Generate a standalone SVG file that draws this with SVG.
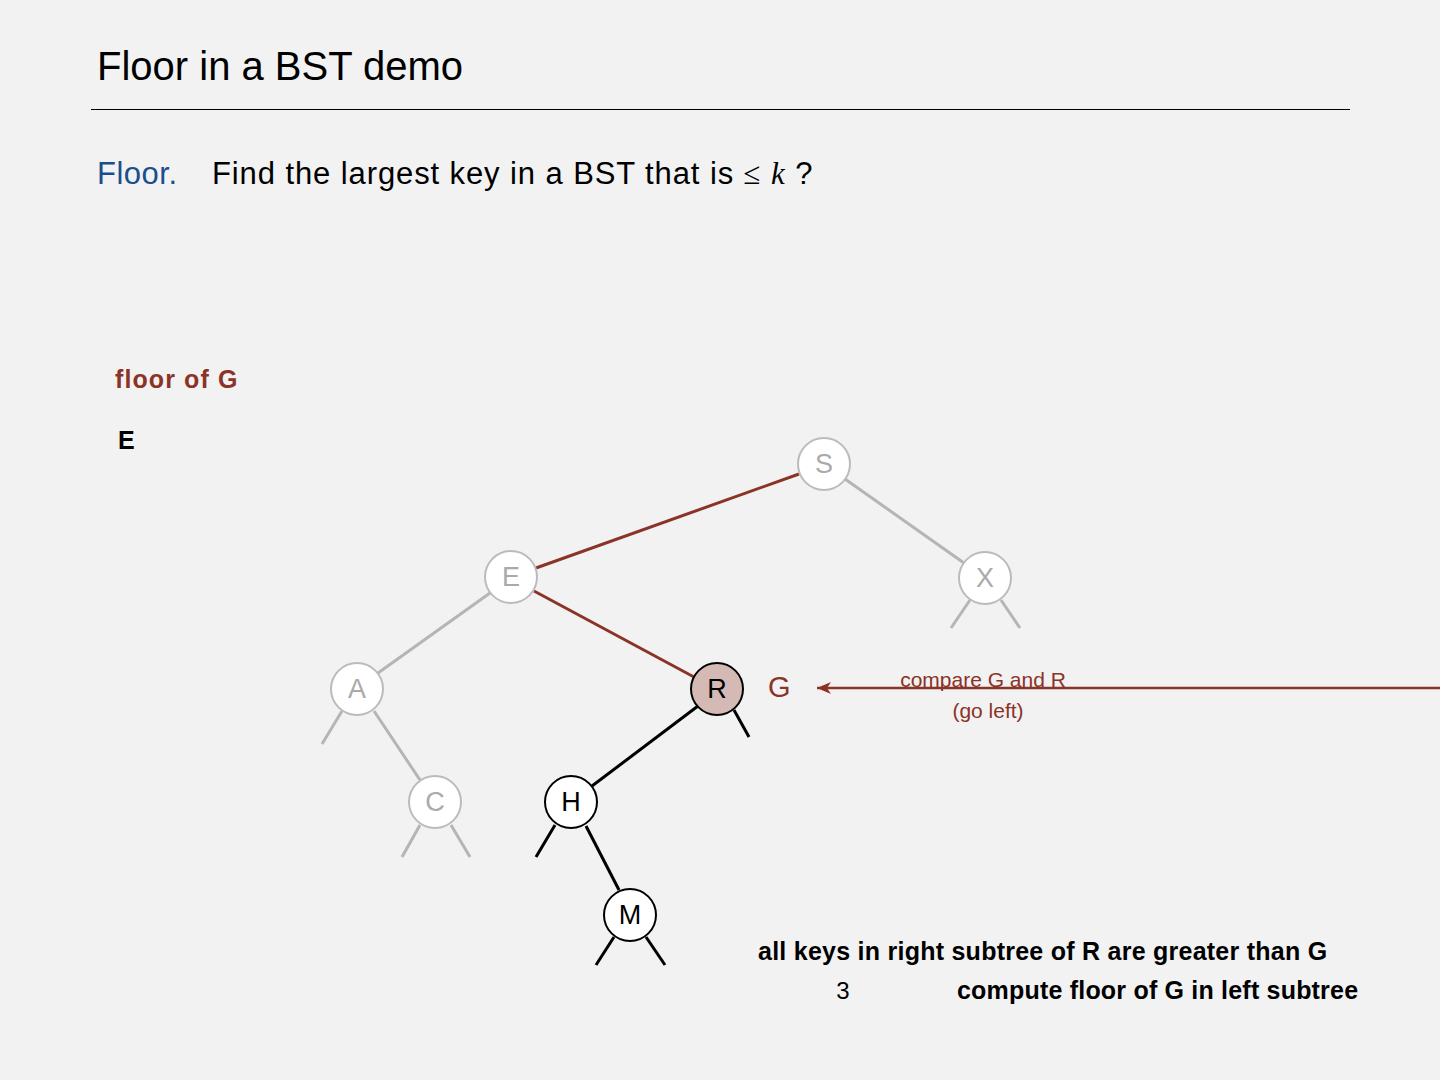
<svg xmlns="http://www.w3.org/2000/svg" width="1440" height="1080" viewBox="0 0 1440 1080">
<defs>
<style>
text{font-family:"Liberation Sans",Arial,sans-serif;}
.gn circle{fill:#fff;stroke:#bbb;stroke-width:2}
.gn text{fill:#aaa;font-size:27px;text-anchor:middle}
.bn circle{fill:#fff;stroke:#000;stroke-width:2}
.bn text{fill:#000;font-size:27px;text-anchor:middle}
.eg{stroke:#b5b5b5;stroke-width:3;fill:none}
.er{stroke:#8b3327;stroke-width:3;fill:none}
.eb{stroke:#000;stroke-width:3;fill:none}
.red{fill:#8b3327}
</style>
<marker id="ah" viewBox="0 0 14 12" refX="14" refY="6" markerWidth="14" markerHeight="12" markerUnits="userSpaceOnUse" orient="auto">
<path d="M0,0 L14,6 L0,12 L4,6 Z" fill="#8b3327"/>
</marker>
</defs>
<rect width="1440" height="1080" fill="#f2f2f2"/>
<text x="97" y="80" font-size="40" fill="#000">Floor in a BST demo</text>
<line x1="91" y1="109.5" x2="1350" y2="109.5" stroke="#000" stroke-width="1.2"/>
<text x="97" y="184" font-size="31" fill="#1b4f8c" letter-spacing="0.5">Floor.</text>
<text x="212" y="184" font-size="31" fill="#000" letter-spacing="0.9">Find the largest key in a BST that is <tspan font-family="Liberation Serif,serif">≤</tspan> <tspan font-family="Liberation Serif,serif" font-style="italic">k</tspan> ?</text>
<text x="115" y="388" font-size="25" font-weight="bold" class="red" letter-spacing="1.1">floor of G</text>
<text x="118" y="449" font-size="25" font-weight="bold" fill="#000">E</text>
<g id="connectors">
<line class="er" x1="799" y1="474" x2="536" y2="568"/>
<line class="eg" x1="845" y1="479" x2="964" y2="563"/>
<line class="eg" x1="970" y1="600" x2="951" y2="628"/>
<line class="eg" x1="1001" y1="600" x2="1020" y2="628"/>
<line class="eg" x1="490" y1="593" x2="378" y2="673"/>
<line class="er" x1="534" y1="591" x2="694" y2="677"/>
<line class="eg" x1="342" y1="711" x2="322" y2="744"/>
<line class="eg" x1="374" y1="711" x2="420" y2="780"/>
<line class="eg" x1="420" y1="825" x2="402" y2="857"/>
<line class="eg" x1="451" y1="825" x2="470" y2="857"/>
<line class="eb" x1="698" y1="706" x2="592" y2="786"/>
<line class="eb" x1="734" y1="710" x2="749" y2="737"/>
<line class="eb" x1="555" y1="825" x2="536" y2="857"/>
<line class="eb" x1="586" y1="826" x2="619" y2="890"/>
<line class="eb" x1="614" y1="937" x2="596" y2="965"/>
<line class="eb" x1="646" y1="937" x2="665" y2="965"/>
<line stroke="#8b3327" stroke-width="2.5" x1="1440" y1="688" x2="817" y2="688" marker-end="url(#ah)"/>
</g>
<g id="node-S" class="gn"><circle cx="824" cy="464" r="26"/><text x="824" y="473">S</text></g>
<g id="node-E" class="gn"><circle cx="511" cy="577" r="26"/><text x="511" y="586">E</text></g>
<g id="node-X" class="gn"><circle cx="985" cy="578" r="26"/><text x="985" y="587">X</text></g>
<g id="node-A" class="gn"><circle cx="357" cy="689" r="26"/><text x="357" y="698">A</text></g>
<g id="node-C" class="gn"><circle cx="435" cy="802" r="26"/><text x="435" y="811">C</text></g>
<g id="node-R" class="bn"><circle cx="717" cy="689" r="26" style="fill:#d5b9b4"/><text x="717" y="698">R</text></g>
<g id="node-H" class="bn"><circle cx="571" cy="802" r="26"/><text x="571" y="811">H</text></g>
<g id="node-M" class="bn"><circle cx="630" cy="915" r="26"/><text x="630" y="924">M</text></g>
<text x="768" y="697" font-size="29" class="red">G</text>
<text x="983" y="687" font-size="21" class="red" text-anchor="middle">compare G and R</text>
<text x="988" y="718" font-size="21" class="red" text-anchor="middle">(go left)</text>
<text x="758" y="960" font-size="25" font-weight="bold" fill="#000" letter-spacing="0.25">all keys in right subtree of R are greater than G</text>
<text x="843" y="999" font-size="24" fill="#000" text-anchor="middle">3</text>
<text x="957" y="999" font-size="25" font-weight="bold" fill="#000" letter-spacing="0.2">compute floor of G in left subtree</text>
</svg>
